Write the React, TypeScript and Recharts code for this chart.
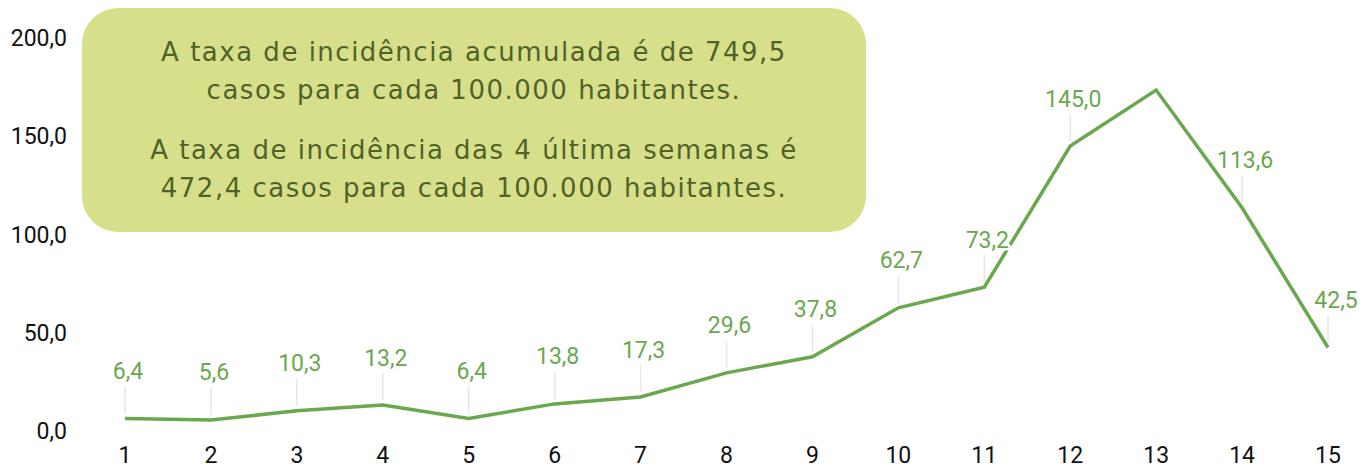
import React from 'react';
import { LineChart, Line, XAxis, YAxis, LabelList } from 'recharts';

const WEEKS = [1, 2, 3, 4, 5, 6, 7, 8, 9, 10, 11, 12, 13, 14, 15];
const RATES = [6.4, 5.6, 10.3, 13.2, 6.4, 13.8, 17.3, 29.6, 37.8, 62.7, 73.2, 145.0, 173.5, 113.6, 42.5];
// week 13 has no value label in the original
const HIDDEN_LABELS = [13];
const Y_TICKS = [0, 50, 100, 150, 200];
const NOTE_1 = ['A taxa de incidência acumulada é de 749,5', 'casos para cada 100.000 habitantes.'];
const NOTE_2 = ['A taxa de incidência das 4 última semanas é', '472,4 casos para cada 100.000 habitantes.'];

const GREEN = '#6aa84f';
const fmt = (v: number) => v.toFixed(1).replace('.', ',');

const data = WEEKS.map((w, i) => ({ week: w, rate: RATES[i] }));

const ValueLabel = (props: any) => {
  const { x, y, value, index } = props;
  if (HIDDEN_LABELS.includes(WEEKS[index])) return null;
  const dx = index === WEEKS.length - 1 ? 8 : 3;
  return (
    <g>
      <line x1={x} y1={y - 5} x2={x} y2={y - 32} stroke="#e6e6e6" strokeWidth={1.5} />
      <text
        x={x + dx}
        y={y - 47}
        textAnchor="middle"
        dominantBaseline="central"
        fontFamily="Roboto, sans-serif"
        fontSize={23}
        fill={GREEN}
        stroke="#fff"
        strokeWidth={5}
        paintOrder="stroke"
        strokeLinejoin="round"
      >
        {fmt(value)}
      </text>
    </g>
  );
};

export default function App() {
  const lineStyle: React.CSSProperties = { lineHeight: '38px', whiteSpace: 'nowrap' };
  return (
    <div style={{ position: 'relative', width: 1356, height: 460 }}>
      <LineChart width={1356} height={460} data={data} margin={{ top: 30, right: 36, left: 0, bottom: 0 }}>
        <XAxis
          dataKey="week"
          type="number"
          domain={[1, 15]}
          ticks={WEEKS}
          padding={{ left: 50, right: 0 }}
          height={37}
          axisLine={false}
          tickLine={false}
          tickMargin={10}
          tick={{ fontSize: 23, fill: '#111', fontFamily: 'Roboto, sans-serif' }}
        />
        <YAxis
          domain={[0, 200]}
          ticks={Y_TICKS}
          width={67}
          axisLine={false}
          tickLine={false}
          tickFormatter={fmt}
          tick={{ fontSize: 23, fill: '#111', fontFamily: 'Roboto, sans-serif' }}
        />
        <Line
          type="linear"
          dataKey="rate"
          stroke={GREEN}
          strokeWidth={3.5}
          dot={false}
          isAnimationActive={false}
        >
          <LabelList dataKey="rate" content={<ValueLabel />} />
        </Line>
      </LineChart>
      <div
        style={{
          position: 'absolute',
          left: 74,
          top: 0,
          width: 784,
          height: 224,
          borderRadius: 36,
          background: '#d8df8b',
          color: '#4f6228',
          fontFamily: '"DejaVu Sans", sans-serif',
          fontWeight: 400,
          fontSize: 26,
          letterSpacing: 1.5,
          textAlign: 'center',
          paddingTop: 25,
          boxSizing: 'border-box',
        }}
      >
        {NOTE_1.map(t => <div key={t} style={lineStyle}>{t}</div>)}
        <div style={{ height: 22 }} />
        {NOTE_2.map(t => <div key={t} style={lineStyle}>{t}</div>)}
      </div>
    </div>
  );
}
